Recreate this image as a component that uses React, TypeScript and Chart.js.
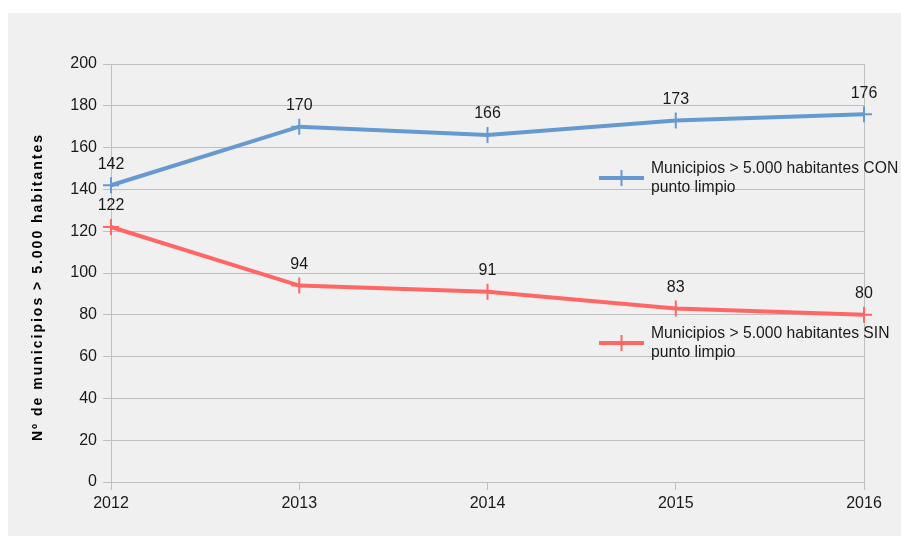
import { useEffect, useRef } from 'react';
import { Chart, registerables } from 'chart.js';

Chart.register(...registerables);

const years: string[] = ['2012', '2013', '2014', '2015', '2016'];
const conValues: number[] = [142, 170, 166, 173, 176];
const sinValues: number[] = [122, 94, 91, 83, 80];
const conLegend: string[] = ['Municipios > 5.000 habitantes CON', 'punto limpio'];
const sinLegend: string[] = ['Municipios > 5.000 habitantes SIN', 'punto limpio'];
const yTitle = 'Nº de municipios > 5.000 habitantes';
const yMin = 0;
const yMax = 200;
const yStep = 20;

const FONT = "'Liberation Sans', Arial, sans-serif";
const BLUE = '#6699cf';
const RED = '#ff6666';
const GRID = '#bfbfbf';
const TEXT = '#1a1a1a';

const labelsPlugin = {
  id: 'pointLabels',
  afterDatasetsDraw(chart: any) {
    const ctx = chart.ctx;
    ctx.save();
    ctx.font = `16px ${FONT}`;
    ctx.fillStyle = TEXT;
    ctx.textAlign = 'center';
    ctx.textBaseline = 'middle';
    chart.data.datasets.forEach((ds: any, i: number) => {
      const meta = chart.getDatasetMeta(i);
      meta.data.forEach((pt: any, j: number) => {
        ctx.fillText(String(ds.data[j]), pt.x, pt.y - 21);
      });
    });
    ctx.restore();
  },
};

const legendPlugin = {
  id: 'customLegend',
  afterDraw(chart: any) {
    const ctx = chart.ctx;
    const items = [
      { lines: conLegend, color: BLUE, y: 165 },
      { lines: sinLegend, color: RED, y: 330 },
    ];
    ctx.save();
    items.forEach((it) => {
      ctx.strokeStyle = it.color;
      ctx.lineWidth = 4;
      ctx.beginPath();
      ctx.moveTo(591, it.y);
      ctx.lineTo(636, it.y);
      ctx.stroke();
      ctx.lineWidth = 2;
      ctx.beginPath();
      ctx.moveTo(613.5, it.y - 8);
      ctx.lineTo(613.5, it.y + 8);
      ctx.stroke();
      ctx.font = `15.7px ${FONT}`;
      ctx.fillStyle = TEXT;
      ctx.textAlign = 'left';
      ctx.textBaseline = 'middle';
      ctx.fillText(it.lines[0], 643, it.y - 9.5);
      ctx.fillText(it.lines[1], 643, it.y + 10);
    });
    ctx.restore();
  },
};

const titlePlugin = {
  id: 'yTitle',
  afterDraw(chart: any) {
    const ctx = chart.ctx;
    ctx.save();
    ctx.translate(30, 275);
    ctx.rotate(-Math.PI / 2);
    ctx.font = `bold 14px ${FONT}`;
    (ctx as any).letterSpacing = '2px';
    ctx.fillStyle = '#000';
    ctx.textAlign = 'center';
    ctx.textBaseline = 'middle';
    ctx.fillText(yTitle, 1, 0);
    ctx.restore();
  },
};

export default function App() {
  const ref = useRef<HTMLCanvasElement>(null);
  useEffect(() => {
    const chart = new Chart(ref.current as HTMLCanvasElement, {
      type: 'line',
      data: {
        labels: years,
        datasets: [
          {
            label: conLegend.join(' '),
            data: conValues,
            borderColor: BLUE,
            backgroundColor: BLUE,
            borderWidth: 4,
            pointStyle: 'cross',
            pointRadius: 8,
            pointBorderWidth: 2,
            tension: 0,
          },
          {
            label: sinLegend.join(' '),
            data: sinValues,
            borderColor: RED,
            backgroundColor: RED,
            borderWidth: 4,
            pointStyle: 'cross',
            pointRadius: 8,
            pointBorderWidth: 2,
            tension: 0,
          },
        ],
      },
      options: {
        animation: false,
        responsive: false,
        layout: { padding: { top: 51, right: 37, left: 0, bottom: 0 } },
        plugins: { legend: { display: false }, tooltip: { enabled: false } },
        scales: {
          x: {
            offset: false,
            grid: {
              color: (c: any) => (c.index === 0 || c.index === years.length - 1 ? GRID : 'rgba(0,0,0,0)'),
              tickColor: GRID,
              tickLength: 8,
              lineWidth: 1,
            },
            border: { color: GRID, width: 1 },
            ticks: { font: { family: FONT, size: 16 }, color: TEXT, padding: 4, maxRotation: 0 },
            afterFit: (s: any) => {
              s.height = 54;
            },
          },
          y: {
            min: yMin,
            max: yMax,
            grid: { color: GRID, tickColor: GRID, tickLength: 8, lineWidth: 1 },
            border: { color: GRID, width: 1 },
            ticks: { stepSize: yStep, font: { family: FONT, size: 16 }, color: TEXT, padding: 6 },
            afterFit: (s: any) => {
              s.width = 103;
            },
          },
        },
      },
      plugins: [labelsPlugin, legendPlugin, titlePlugin],
    } as any);
    return () => chart.destroy();
  }, []);
  return (
    <div
      style={{
        position: 'absolute',
        left: 8,
        top: 13,
        width: 893,
        height: 523,
        background: '#f0f0f0',
      }}
    >
      <canvas ref={ref} width={893} height={523} style={{ display: 'block' }} />
    </div>
  );
}
